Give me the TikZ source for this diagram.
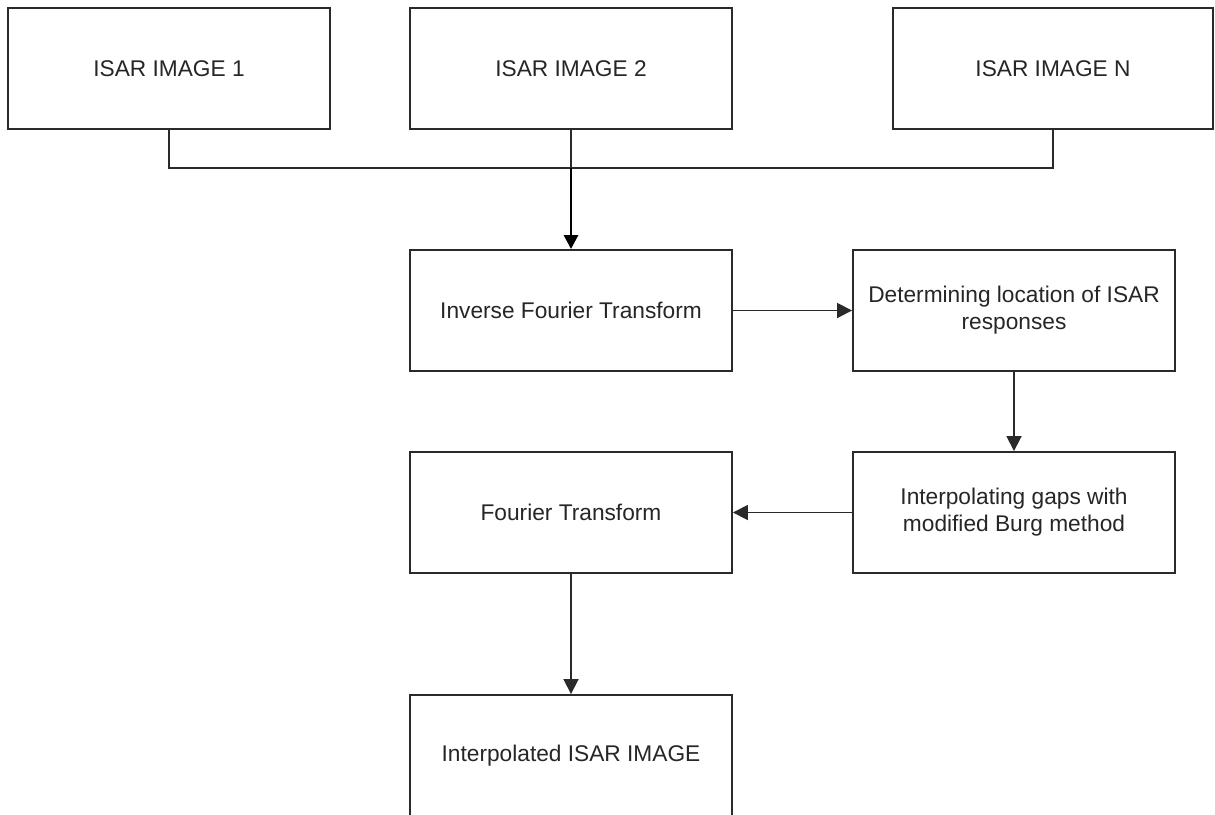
\documentclass[tikz,border=0pt]{standalone}
\usepackage{fontspec}
\setmainfont{Liberation Sans}
\usetikzlibrary{arrows.meta}
\definecolor{edge}{HTML}{2A2A2A}
\definecolor{ink}{HTML}{262626}
\begin{document}
\begin{tikzpicture}[x=1pt,y=-1pt,
  procbox/.style={draw=edge, line width=1.9pt, fill=white, minimum width=322pt,
    minimum height=121pt, inner sep=0pt, align=center, text=ink,
    font=\fontsize{22.7}{27}\selectfont},
  link/.style={draw=edge, line width=1.8pt},
  flow/.style={link, -{Triangle[length=15pt,width=15pt]}},
  mainflow/.style={draw=black, line width=2.8pt, -{Triangle[length=14pt,width=14pt]}}]
  \useasboundingbox (0,0) rectangle (1215,814);
  \fill[white] (0,0) rectangle (1215,814);

  % input images
  \node[procbox] (b1) at (169,68.5) {ISAR IMAGE 1};
  \node[procbox] (b2) at (571,68.5) {ISAR IMAGE 2};
  \node[procbox, minimum width=320pt] (bN) at (1053,68.5) {ISAR IMAGE N};

  % processing chain
  \node[procbox] (ift) at (571,310.5) {Inverse Fourier Transform};
  \node[procbox] (det) at (1014,310.5) {Determining location of ISAR\\responses};
  \node[procbox] (itp) at (1014,512.5) {Interpolating gaps with\\modified Burg method};
  \node[procbox] (ft)  at (571,512.5) {Fourier Transform};
  \node[procbox] (out) at (571,755.5) {Interpolated ISAR IMAGE};

  % collecting bus
  \coordinate (j) at (571,168);
  \draw[link] (b1.south) |- (j) -| (bN.south);
  \draw[link] (b2.south) -- (j);
  \draw[mainflow] (j) -- (ift.north);

  \draw[flow] (ift.east) -- (det.west);
  \draw[flow] (det.south) -- (itp.north);
  \draw[flow] (itp.west) -- (ft.east);
  \draw[flow] (ft.south) -- (out.north);
\end{tikzpicture}
\end{document}
